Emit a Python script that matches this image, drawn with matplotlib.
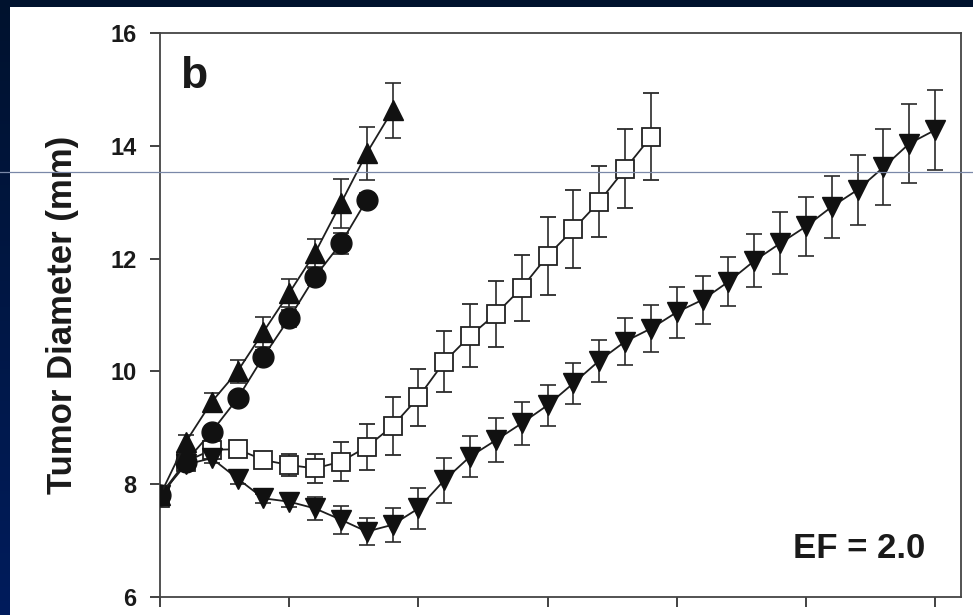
import matplotlib
matplotlib.use('Agg')
import matplotlib.pyplot as plt
import numpy as np
from matplotlib.patches import Rectangle
from matplotlib.lines import Line2D
from matplotlib.colors import LinearSegmentedColormap

plt.rcParams['font.family'] = ['Liberation Sans', 'DejaVu Sans']

# days after treatment (one point per day)
days = np.arange(31)

# filled circles
circ = [7.8, 8.4, 8.93, 9.52, 10.26, 10.94, 11.68, 12.27, 13.04]
circ_err = [0.05, 0.08, 0.1, 0.12, 0.12, 0.15, 0.15, 0.19, 0.12]

# filled up-triangles
tri_up = [7.8, 8.75, 9.46, 10.0, 10.70, 11.39, 12.10, 12.98, 13.87, 14.63]
tri_up_err = [0.05, 0.12, 0.16, 0.2, 0.26, 0.25, 0.25, 0.44, 0.47, 0.49]

# open squares
sq = [7.76, 8.40, 8.61, 8.62, 8.43, 8.34, 8.28, 8.40, 8.66, 9.03,
      9.54, 10.17, 10.63, 11.02, 11.48, 12.05, 12.52, 13.01, 13.59, 14.16]
sq_err = [0.05, 0.1, 0.1, 0.1, 0.1, 0.2, 0.26, 0.35, 0.4, 0.51,
          0.51, 0.54, 0.56, 0.58, 0.59, 0.69, 0.69, 0.63, 0.7, 0.77]

# filled down-triangles
tri_dn = [7.8, 8.35, 8.46, 8.10, 7.75, 7.69, 7.57, 7.37, 7.16, 7.28,
          7.57, 8.07, 8.49, 8.78, 9.08, 9.40, 9.79, 10.19, 10.53, 10.76,
          11.05, 11.27, 11.59, 11.96, 12.27, 12.57, 12.92, 13.22, 13.62, 14.04, 14.28]
tri_dn_err = [0.05, 0.08, 0.08, 0.1, 0.08, 0.1, 0.2, 0.25, 0.24, 0.3,
              0.37, 0.4, 0.36, 0.39, 0.38, 0.36, 0.36, 0.37, 0.42, 0.42,
              0.45, 0.43, 0.43, 0.47, 0.55, 0.53, 0.55, 0.62, 0.67, 0.7, 0.71]

yticks = [6, 8, 10, 12, 14, 16]
xticks = [0, 5, 10, 15, 20, 25, 30]

W, H = 973, 615
fig = plt.figure(figsize=(W / 100, H / 100), dpi=100)

# navy slide background, darker at the top
bg = fig.add_axes([0, 0, 1, 1], zorder=-2)
navy = LinearSegmentedColormap.from_list('navy', ['#00122e', '#001c5c'])
bg.imshow(np.linspace(0, 1, 256).reshape(-1, 1), cmap=navy, aspect='auto', extent=(0, 1, 0, 1))
bg.axis('off')
# white slide area, navy strip on top and left
fig.add_artist(Rectangle((10 / W, 0), 1, 1 - 7 / H, transform=fig.transFigure,
                         facecolor='white', edgecolor='none', zorder=0))

ax = fig.add_axes([160 / W, 18 / H, (961 - 160) / W, (597 - 33) / H])
ax.set_facecolor('white')

line_c = '#1e1e1e'
err_kw = dict(ecolor='#2a2a2a', elinewidth=1.2, capsize=6, capthick=1.2)

ax.errorbar(days[:len(sq)], sq, yerr=sq_err, color=line_c, lw=1.3, marker='s', ms=13,
            mfc='white', mec='#222222', mew=1.3, zorder=3, **err_kw)
ax.errorbar(days[:len(tri_dn)], tri_dn, yerr=tri_dn_err, color=line_c, lw=1.3, marker='v', ms=14,
            mfc='#111111', mec='#111111', zorder=3, **err_kw)
ax.errorbar(days[:len(circ)], circ, yerr=circ_err, color=line_c, lw=1.3, marker='o', ms=15,
            mfc='#111111', mec='#111111', zorder=4, **err_kw)
ax.errorbar(days[:len(tri_up)], tri_up, yerr=tri_up_err, color=line_c, lw=1.3, marker='^', ms=14,
            mfc='#111111', mec='#111111', zorder=4, **err_kw)

ax.set_xlim(0, 31)
ax.set_ylim(6, 16)
ax.set_yticks(yticks)
ax.set_yticklabels([str(t) for t in yticks], fontsize=17, fontweight='bold', color='#1a1a1a')
ax.set_xticks(xticks)
ax.set_xticklabels([''] * len(xticks))
ax.tick_params(axis='y', direction='out', length=7, width=1.3, pad=10, colors='#333333',
               labelcolor='#1a1a1a')
ax.tick_params(axis='x', direction='out', length=7, width=1.3, colors='#333333')
for s in ax.spines.values():
    s.set_color('#444444')
    s.set_linewidth(1.3)

ax.text(0.025, 0.9025, 'b', transform=ax.transAxes, fontsize=32, fontweight='bold',
        ha='left', va='baseline', color='#1a1a1a')
ax.text(0.955, 0.069, 'EF = 2.0', transform=ax.transAxes, fontsize=25, fontweight='bold',
        ha='right', va='baseline', color='#1a1a1a')

fig.text(63 / W, 1 - 315 / H, 'Tumor Diameter (mm)', rotation=90, fontsize=25,
         fontweight='bold', ha='center', va='center', color='#1a1a1a')

# thin guide line across the slide
fig.add_artist(Line2D([0, 1], [1 - 172 / H, 1 - 172 / H], transform=fig.transFigure,
                      color='#7a88a8', lw=0.9, zorder=10))

fig.savefig('out.png', dpi=100)
